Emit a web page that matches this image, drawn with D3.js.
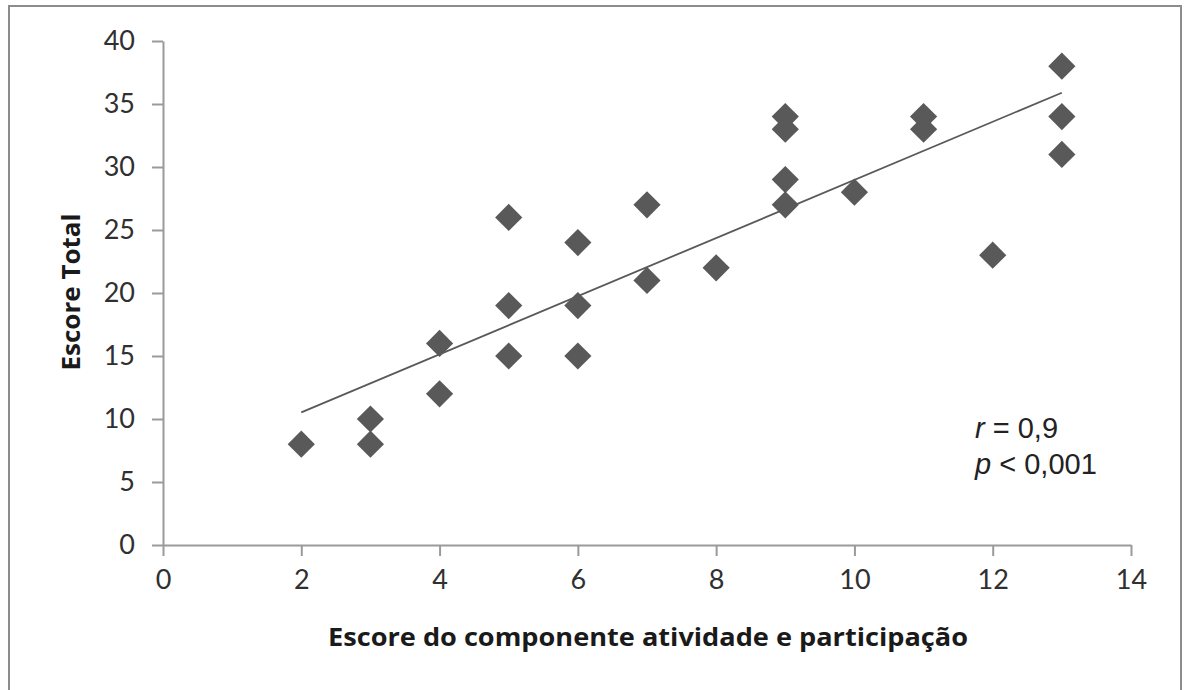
<!DOCTYPE html>
<html>
<head>
<meta charset="utf-8">
<script src="https://cdn.jsdelivr.net/npm/d3@7"></script>
<style>
  html, body { margin: 0; padding: 0; background: #fff; }
  svg { display: block; }
</style>
</head>
<body>
<div id="chart"></div>
<script>
  // activity/participation score vs total score
  const xValues = [2, 3, 3, 4, 4, 5, 5, 5, 6, 6, 6, 7, 7, 8, 9, 9, 9, 9, 10, 11, 11, 12, 13, 13, 13];
  const yValues = [8, 10, 8, 16, 12, 26, 19, 15, 24, 19, 15, 27, 21, 22, 34, 33, 29, 27, 28, 34, 33, 23, 38, 34, 31];
  const xTicks = [0, 2, 4, 6, 8, 10, 12, 14];
  const yTicks = [0, 5, 10, 15, 20, 25, 30, 35, 40];

  const W = 1184, H = 690;
  const margin = { left: 163, right: 53, top: 41, bottom: 145 };

  const svg = d3.select("#chart").append("svg")
    .attr("width", W).attr("height", H);

  // outer frame
  svg.append("rect")
    .attr("x", 9).attr("y", 6)
    .attr("width", W - 12).attr("height", H - 4)
    .attr("fill", "none").attr("stroke", "#8c8c8c").attr("stroke-width", 2);

  const x = d3.scaleLinear().domain([0, 14]).range([margin.left, W - margin.right]);
  const y = d3.scaleLinear().domain([0, 40]).range([H - margin.bottom, margin.top]);

  const axisColor = "#9a9a9a";
  const tickFont = "Lato, 'Open Sans', sans-serif";
  const titleFont = "'Open Sans', Lato, sans-serif";

  const gx = svg.append("g")
    .attr("transform", `translate(0,${y(0)})`)
    .call(d3.axisBottom(x).tickValues(xTicks).tickSize(11).tickSizeOuter(0).tickPadding(14));
  const gy = svg.append("g")
    .attr("transform", `translate(${x(0)},0)`)
    .call(d3.axisLeft(y).tickValues(yTicks).tickSize(11).tickSizeOuter(0).tickPadding(17));

  [gx, gy].forEach((g) => {
    g.select(".domain").attr("stroke", axisColor).attr("stroke-width", 2);
    g.selectAll(".tick line").attr("stroke", axisColor).attr("stroke-width", 2);
    g.selectAll(".tick text")
      .attr("fill", "#303030")
      .style("font-family", tickFont)
      .style("font-size", "27px");
  });

  // least squares trend line from the points
  const mx = d3.mean(xValues), my = d3.mean(yValues);
  const sxy = d3.sum(xValues, (v, i) => (v - mx) * (yValues[i] - my));
  const sxx = d3.sum(xValues, (v) => (v - mx) * (v - mx));
  const slope = sxy / sxx;
  const intercept = my - slope * mx;
  const xMin = d3.min(xValues), xMax = d3.max(xValues);

  svg.append("line")
    .attr("x1", x(xMin)).attr("y1", y(intercept + slope * xMin))
    .attr("x2", x(xMax)).attr("y2", y(intercept + slope * xMax))
    .attr("stroke", "#595959").attr("stroke-width", 1.8);

  // diamond markers
  const diamond = d3.symbol(d3.symbolSquare, 370);
  svg.append("g").selectAll("path")
    .data(xValues)
    .join("path")
    .attr("d", diamond)
    .attr("transform", (d, i) => `translate(${x(d)},${y(yValues[i])}) rotate(45)`)
    .attr("fill", "#595959");

  // axis titles
  svg.append("text")
    .attr("x", 648).attr("y", 646)
    .attr("text-anchor", "middle")
    .attr("textLength", 640)
    .attr("lengthAdjust", "spacingAndGlyphs")
    .style("font-family", titleFont)
    .style("font-weight", "bold")
    .style("font-size", "25px")
    .attr("fill", "#1a1a1a")
    .text("Escore do componente atividade e participação");

  svg.append("text")
    .attr("transform", "translate(80,292) rotate(-90)")
    .attr("text-anchor", "middle")
    .attr("textLength", 157)
    .attr("lengthAdjust", "spacingAndGlyphs")
    .style("font-family", titleFont)
    .style("font-weight", "bold")
    .style("font-size", "25px")
    .attr("fill", "#1a1a1a")
    .text("Escore Total");

  // correlation annotation
  const note = svg.append("g")
    .style("font-family", "'Liberation Sans', Arial, sans-serif")
    .style("font-size", "29px")
    .attr("fill", "#222");
  const t1 = note.append("text").attr("x", 975).attr("y", 438);
  t1.append("tspan").style("font-style", "italic").text("r");
  t1.append("tspan").text(" = 0,9");
  const t2 = note.append("text").attr("x", 975).attr("y", 474);
  t2.append("tspan").style("font-style", "italic").text("p");
  t2.append("tspan").text(" < 0,001");
</script>
</body>
</html>
